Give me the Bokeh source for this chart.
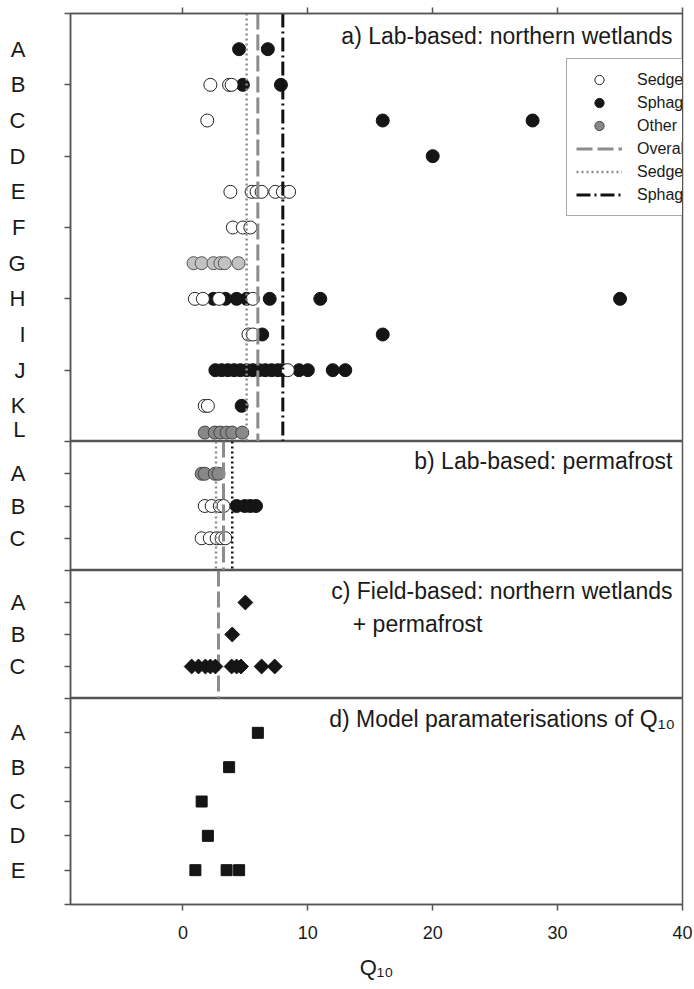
import numpy as np
from bokeh.plotting import figure
from bokeh.models import Range1d, FixedTicker, Label, Legend, LegendItem
from bokeh.layouts import column
from bokeh.embed import file_html
from bokeh.resources import INLINE

FONT = "Liberation Sans"
INK = "#1a1a1a"
AXC = "#555555"

# ---------------- data ----------------
# panel a) Lab-based: northern wetlands
rows_a = list("ABCDEFGHIJKL")
rowpos_a = [1, 2, 3, 4, 5, 6, 7, 8, 9, 10, 11, 11.75]
ticks_a = [0, 2, 4, 6, 8, 10, 12]
a_sedge = {"B": [2.2, 3.7, 3.9], "C": [1.95],
           "E": [3.8, 5.5, 5.9, 6.3, 7.4, 8.0, 8.5], "F": [4.0, 4.8, 5.4],
           "H": [0.96, 1.6, 2.9, 5.6], "I": [5.25, 5.6], "J": [8.4], "K": [1.75, 2.0]}
a_sphag = {"A": [4.5, 6.8], "B": [4.8, 7.85], "C": [16.0, 28.0], "D": [20.0],
           "H": [2.45, 3.4, 4.3, 5.1, 6.95, 11.0, 35.0], "I": [6.35, 16.0],
           "J": [2.6, 3.1, 3.6, 4.1, 4.6, 5.1, 5.6, 6.1, 6.6, 7.1, 7.6, 8.0, 9.3, 10.0, 12.0, 13.0],
           "K": [4.7]}
a_other = {"L": [1.75, 2.55, 3.0, 3.5, 3.95, 4.75]}
a_other_light = {"G": [0.85, 1.5, 2.45, 3.0, 3.35, 4.45]}
a_med_overall, a_med_sedge, a_med_sphag = 6.0, 5.1, 8.0

# panel b) Lab-based: permafrost
rows_b = list("ABC")
rowpos_b = [1, 2, 3]
ticks_b = [0, 1, 2, 3, 4]
b_sedge = {"B": [1.75, 2.3, 2.95, 3.25], "C": [1.5, 2.15, 2.7, 3.1, 3.4]}
b_sphag = {"B": [4.3, 4.95, 5.4, 5.85]}
b_other = {"A": [1.5, 1.75, 2.55, 2.85]}
b_med_overall, b_med_sedge, b_med_sphag = 3.25, 2.65, 3.95

# panel c) Field-based
rows_c = list("ABC")
rowpos_c = [1, 2, 3]
ticks_c = [0, 1, 2, 3, 4]
c_field = {"A": [5.0], "B": [3.95], "C": [0.7, 1.25, 1.8, 2.2, 2.6, 3.9, 4.3, 4.65, 6.3, 7.35]}
c_med_overall = 2.85

# panel d) Model parameterisations
rows_d = list("ABCDE")
rowpos_d = [1, 2, 3, 4, 5]
ticks_d = [0, 1, 2, 3, 4, 5, 6]
d_model = {"A": [6.0], "B": [3.7], "C": [1.5], "D": [2.0], "E": [1.0, 3.5, 4.5]}

x_ticks = [0, 10, 20, 30, 40]
x_lo, x_hi = -9.0, 40.0


def flat(d, rows, pos):
    m = dict(zip(rows, pos))
    xs, ys = [], []
    for r, vals in d.items():
        for v in vals:
            xs.append(v)
            ys.append(m[r])
    return xs, ys


xr = Range1d(x_lo, x_hi)


def make_fig(frame_h, rows, pos, ticks, top=0, xlabel=False, xabove=False):
    loc = "below" if xlabel else ("above" if xabove else None)
    p = figure(frame_width=612, frame_height=frame_h, x_range=xr,
               y_range=Range1d(ticks[-1], ticks[0]),
               output_backend="svg", toolbar_location=None,
               x_axis_location=loc, min_border_left=70, min_border_right=12,
               min_border_top=top, min_border_bottom=0)
    p.xgrid.visible = False
    p.ygrid.visible = False
    p.outline_line_color = AXC
    p.outline_line_width = 1.5
    p.background_fill_color = "white"
    ax = p.yaxis[0]
    ax.ticker = FixedTicker(ticks=pos, minor_ticks=ticks)
    ax.major_label_overrides = {q: r for q, r in zip(pos, rows)}
    ax.major_tick_line_color = None
    ax.major_tick_out = 0
    ax.major_tick_in = 0
    ax.minor_tick_out = 6
    ax.minor_tick_in = 0
    ax.minor_tick_line_color = AXC
    ax.minor_tick_line_width = 1.5
    ax.axis_line_color = AXC
    ax.axis_line_width = 1.5
    ax.major_label_standoff = 39
    ax.major_label_text_font = FONT
    ax.major_label_text_font_size = "22px"
    ax.major_label_text_color = INK
    if loc is not None:
        xa = p.xaxis[0]
        xa.axis_line_color = AXC
        xa.axis_line_width = 1.5
        if xlabel:
            xa.ticker = FixedTicker(ticks=x_ticks)
            xa.major_tick_out = 6
            xa.major_tick_in = 0
            xa.major_tick_line_color = AXC
            xa.major_tick_line_width = 1.5
            xa.major_label_text_font = FONT
            xa.major_label_text_color = INK
            xa.major_label_text_font_size = "18px"
            xa.major_label_standoff = 15
            xa.axis_label = "Q\u2081\u2080"
            xa.axis_label_text_font = FONT
            xa.axis_label_text_font_style = "normal"
            xa.axis_label_text_font_size = "22px"
            xa.axis_label_text_color = INK
            xa.axis_label_standoff = 13
        else:
            # ticks only, no labels
            xa.ticker = FixedTicker(ticks=[], minor_ticks=x_ticks)
            xa.major_tick_line_color = None
            xa.minor_tick_out = 6
            xa.minor_tick_in = 0
            xa.minor_tick_line_color = AXC
            xa.minor_tick_line_width = 1.5
            xa.major_label_standoff = 0
    return p


def panel_label(p, text, x, y, align="right"):
    p.add_layout(Label(x=x, y=y, text=text, text_align=align, text_baseline="middle",
                       text_font=FONT, text_font_size="23px", text_color=INK))


def vline(p, xv, y0, y1, color, dash, width):
    return p.line([xv, xv], [y0, y1], line_color=color, line_dash=dash, line_width=width)


OPEN = dict(fill_color="white", line_color="#222222", line_width=1)
FILL = dict(fill_color="#151515", line_color="#151515", line_width=1)
OTHER = dict(fill_color="#888888", line_color="#444444", line_width=1)
OTHER_L = dict(fill_color="#c2c2c2", line_color="#555555", line_width=1)

# ---- panel a ----
pa = make_fig(428, rows_a, rowpos_a, ticks_a, top=13, xabove=True)
r_ol = pa.scatter(*flat(a_other_light, rows_a, rowpos_a), marker="circle", size=13, **OTHER_L)
r_ot = pa.scatter(*flat(a_other, rows_a, rowpos_a), marker="circle", size=13, **OTHER)
r_sp = pa.scatter(*flat(a_sphag, rows_a, rowpos_a), marker="circle", size=13, **FILL)
r_se = pa.scatter(*flat(a_sedge, rows_a, rowpos_a), marker="circle", size=13, **OPEN)
l_ov = vline(pa, a_med_overall, ticks_a[0], ticks_a[-1], "#8c8c8c", "16 5", 3)
l_se = vline(pa, a_med_sedge, ticks_a[0], ticks_a[-1], "#8c8c8c", "2 3", 2.5)
l_sp = vline(pa, a_med_sphag, ticks_a[0], ticks_a[-1], "#111111", "14 4 2 4", 3)
panel_label(pa, "a) Lab-based: northern wetlands", 39.2, 0.62)
leg = Legend(items=[
    LegendItem(label="Sedge-dominated", renderers=[r_se]),
    LegendItem(label="Sphagnum-dominated", renderers=[r_sp]),
    LegendItem(label="Other organic soils", renderers=[r_ot]),
    LegendItem(label="Overall median", renderers=[l_ov]),
    LegendItem(label="Sedge-dominated median", renderers=[l_se]),
    LegendItem(label="Sphagnum-dominated median", renderers=[l_sp]),
], location=(496, 225))
leg.label_text_font = FONT
leg.label_text_font_size = "16px"
leg.label_text_color = INK
leg.glyph_width = 46
leg.glyph_height = 23
leg.label_height = 23
leg.spacing = 0
leg.padding = 9
leg.margin = 0
leg.label_standoff = 15
leg.border_line_color = AXC
leg.border_line_width = 1
leg.background_fill_alpha = 1
pa.add_layout(leg)

# ---- panel b ----
pb = make_fig(129, rows_b, rowpos_b, ticks_b)
pb.scatter(*flat(b_other, rows_b, rowpos_b), marker="circle", size=13, **OTHER)
pb.scatter(*flat(b_sphag, rows_b, rowpos_b), marker="circle", size=13, **FILL)
pb.scatter(*flat(b_sedge, rows_b, rowpos_b), marker="circle", size=13, **OPEN)
vline(pb, b_med_sedge, ticks_b[0], ticks_b[-1], "#8c8c8c", "2 3", 2.5)
vline(pb, b_med_overall, ticks_b[0], ticks_b[-1], "#8c8c8c", "16 5", 3)
vline(pb, b_med_sphag, ticks_b[0], ticks_b[-1], "#111111", "2 3", 2.5)
panel_label(pb, "b) Lab-based: permafrost", 39.2, 0.62)

# ---- panel c ----
pc = make_fig(128, rows_c, rowpos_c, ticks_c)
vline(pc, c_med_overall, ticks_c[0], ticks_c[-1], "#8c8c8c", "16 5", 3)
pc.scatter(*flat(c_field, rows_c, rowpos_c), marker="square", angle=np.pi / 4, size=10.5,
           fill_color="#151515", line_color="#151515")
panel_label(pc, "c) Field-based: northern wetlands", 39.2, 0.63)
panel_label(pc, "+ permafrost", 13.6, 1.67, align="left")

# ---- panel d ----
pd_ = make_fig(206, rows_d, rowpos_d, ticks_d, xlabel=True)
pd_.scatter(*flat(d_model, rows_d, rowpos_d), marker="square", size=11,
            fill_color="#151515", line_color="#151515")
panel_label(pd_, "d) Model paramaterisations of Q\u2081\u2080", 39.4, 0.61)

layout = column(pa, pb, pc, pd_, spacing=0)
open("out.html", "w").write(file_html(layout, INLINE))
